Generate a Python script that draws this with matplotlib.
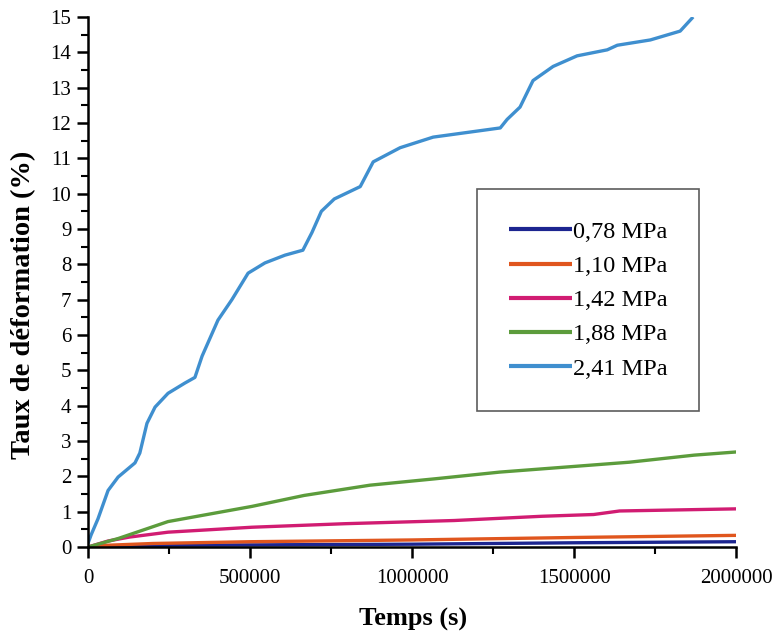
import matplotlib.pyplot as plt

plt.rcParams['font.family'] = ['Liberation Serif', 'DejaVu Serif']

labels = ["0,78 MPa", "1,10 MPa", "1,42 MPa", "1,88 MPa", "2,41 MPa"]
colors = ["#1c2590", "#e0561e", "#d11c72", "#5c9c3c", "#3f8fcf"]

# 0,78 MPa
t1 = [0, 60000, 250000, 500000, 1000000, 1500000, 2000000]
y1 = [0, 0.03, 0.05, 0.06, 0.08, 0.12, 0.15]
# 1,10 MPa
t2 = [0, 60000, 200000, 500000, 1000000, 1500000, 2000000]
y2 = [0, 0.05, 0.1, 0.15, 0.2, 0.27, 0.33]
# 1,42 MPa
t3 = [0, 62000, 127000, 247000, 506000, 793000, 1130000, 1400000, 1560000, 1640000, 2000000]
y3 = [0, 0.17, 0.28, 0.42, 0.56, 0.66, 0.75, 0.87, 0.92, 1.02, 1.08]
# 1,88 MPa
t4 = [0, 93000, 247000, 506000, 667000, 870000, 1070000, 1270000, 1470000, 1670000, 1870000, 2000000]
y4 = [0, 0.24, 0.72, 1.15, 1.46, 1.75, 1.93, 2.12, 2.26, 2.4, 2.6, 2.69]
# 2,41 MPa
t5 = [0, 10000, 31000, 62000, 93000, 145000, 160000, 182000, 207000, 247000, 299000,
      330000, 352000, 401000, 444000, 494000, 546000, 608000, 663000, 691000, 720000,
      760000, 840000, 880000, 963000, 1065000, 1272000, 1293000, 1333000, 1373000,
      1435000, 1509000, 1602000, 1633000, 1735000, 1827000, 1867000]
y5 = [0.1, 0.35, 0.8, 1.6, 1.98, 2.38, 2.66, 3.5, 3.96, 4.35, 4.64,
      4.8, 5.4, 6.42, 7.0, 7.75, 8.04, 8.26, 8.4, 8.9, 9.5,
      9.85, 10.2, 10.9, 11.3, 11.6, 11.86, 12.1, 12.45, 13.2,
      13.6, 13.9, 14.07, 14.2, 14.35, 14.6, 15.0]

fig = plt.figure(figsize=(7.75, 6.38), dpi=100)
ax = fig.add_axes([0.1135, 0.1426, 0.8365, 0.8308])

for t, y, c, l in zip([t1, t2, t3, t4, t5], [y1, y2, y3, y4, y5], colors, labels):
    ax.plot(t, y, color=c, lw=2.4, label=l, solid_capstyle='butt')

ax.set_xlim(0, 2000000)
ax.set_ylim(0, 15)
ax.set_xticks([0, 500000, 1000000, 1500000, 2000000])
ax.set_xticklabels(["0", "500000", "1000000", "1500000", "2000000"])
ax.set_xticks([250000, 750000, 1250000, 1750000], minor=True)
ax.set_yticks(range(0, 16))
ax.set_yticks([i + 0.5 for i in range(15)], minor=True)

for s in ['top', 'right']:
    ax.spines[s].set_visible(False)
for s in ['left', 'bottom']:
    ax.spines[s].set_linewidth(1.8)

ax.tick_params(which='major', direction='out', length=8, width=1.8, labelsize=15, pad=4)
ax.tick_params(which='minor', direction='out', length=5, width=1.5)
ax.tick_params(axis='x', pad=8)

ax.set_xlabel("Temps (s)", fontsize=19, fontweight='bold')
ax.xaxis.set_label_coords(0.502, -0.115)
ax.set_ylabel("Taux de déformation (%)", fontsize=20.5, fontweight='bold')
ax.yaxis.set_label_coords(-0.080, 0.457)

leg = ax.legend(loc='upper left', bbox_to_anchor=(0.6, 0.675), fontsize=17.5,
                frameon=True, fancybox=False, edgecolor='#333333',
                handlelength=2.6, handletextpad=0.05, borderpad=1.3,
                labelspacing=0.5, borderaxespad=0)
leg.get_frame().set_linewidth(1.2)
for h in leg.get_lines():
    h.set_linewidth(3)

fig.savefig("out.png", dpi=100)
